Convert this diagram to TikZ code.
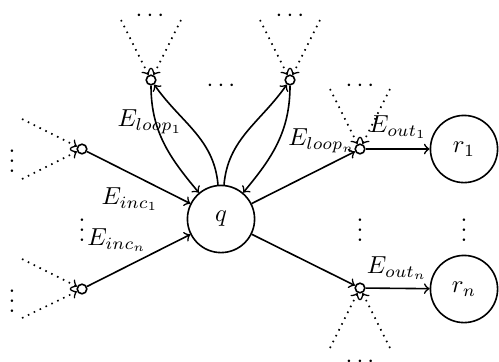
\documentclass[tikz,border=0pt]{standalone}
\begin{document}
\begin{tikzpicture}[x=0.4065pt,y=0.4065pt,line width=0.65pt,
  state/.style={draw,circle,minimum size=27.3pt,inner sep=0pt},
  junc/.style={draw,circle,fill=white,minimum size=3.9pt,inner sep=0pt},
  dotsnode/.style={inner sep=0pt},
  edge/.style={->},
  dotedge/.style={->,dotted}]
\useasboundingbox (0,0) rectangle (499,361);
% labels first (junctions overlap them)
\node (lloop1) at (150,239) {$E_{loop_1}$};
\node (lloopn) at (322,220) {$E_{loop_n}$};
\node (lout1) at (398,234) {$E_{out_1}$};
\node (loutn) at (397,93) {$E_{out_n}$};
\node (linc1) at (130,162) {$E_{inc_1}$};
\node (lincn) at (117,121) {$E_{inc_n}$};
% states
\node[state] (q) at (221,142) {$q$};
\node[state] (r1) at (464,212) {$r_1$};
\node[state] (rn) at (464,72) {$r_n$};
% junctions
\node[junc] (jl1) at (151,281) {};
\node[junc] (jln) at (290,281) {};
\node[junc] (jo1) at (360,212) {};
\node[junc] (jon) at (360,73) {};
\node[junc] (ji1) at (82,212) {};
\node[junc] (jin) at (82,72) {};
% dotted source points
\coordinate (sl1a) at (121,341); \coordinate (sl1b) at (181,341);
\coordinate (slna) at (260,341); \coordinate (slnb) at (320,341);
\coordinate (so1a) at (330,272); \coordinate (so1b) at (390,272);
\coordinate (sona) at (330,13);  \coordinate (sonb) at (390,13);
\coordinate (si1a) at (22,242);  \coordinate (si1b) at (22,182);
\coordinate (sina) at (22,102);  \coordinate (sinb) at (22,43);
\draw[dotedge] (sl1a) -- (jl1);
\draw[dotedge] (sl1b) -- (jl1);
\draw[dotedge] (slna) -- (jln);
\draw[dotedge] (slnb) -- (jln);
\draw[dotedge] (so1a) -- (jo1);
\draw[dotedge] (so1b) -- (jo1);
\draw[dotedge] (sona) -- (jon);
\draw[dotedge] (sonb) -- (jon);
\draw[dotedge] (si1a) -- (ji1);
\draw[dotedge] (si1b) -- (ji1);
\draw[dotedge] (sina) -- (jin);
\draw[dotedge] (sinb) -- (jin);
% ellipses
\node[dotsnode] (d1) at (150,345) {$\cdots$};
\node[dotsnode] (d2) at (290,345) {$\cdots$};
\node[dotsnode] (d3) at (221,275) {$\cdots$};
\node[dotsnode] (d4) at (360,275) {$\cdots$};
\node[dotsnode] (d5) at (360,-1) {$\cdots$};
\node[dotsnode] (v1) at (12,207) {$\vdots$};
\node[dotsnode] (v2) at (12,67) {$\vdots$};
\node[dotsnode] (v3) at (82,138) {$\vdots$};
\node[dotsnode] (v4) at (360,138) {$\vdots$};
\node[dotsnode] (v5) at (464,138) {$\vdots$};
% edges
\draw[edge] (ji1) -- (q);
\draw[edge] (jin) -- (q);
\draw[edge] (q) -- (jo1);
\draw[edge] (q) -- (jon);
\draw[edge] (jo1) -- (r1);
\draw[edge] (jon) -- (rn);
\draw[edge] (jl1) to[out=-90,in=130] (q);
\draw[edge] (q) to[out=95,in=-55] (jl1);
\draw[edge] (q) to[out=85,in=-125] (jln);
\draw[edge] (jln) to[out=-90,in=50] (q);
\end{tikzpicture}
\end{document}
